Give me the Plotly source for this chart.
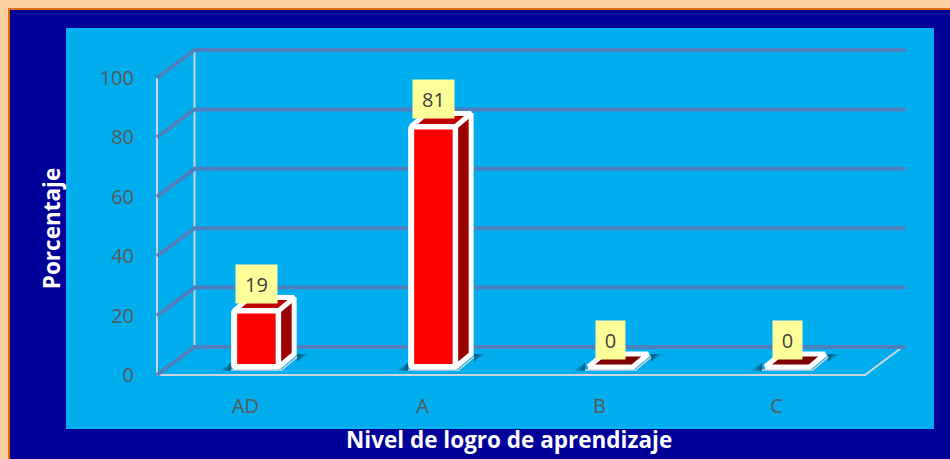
import plotly.graph_objects as go

# Data
categories = ["AD", "A", "B", "C"]
porcentaje = [19, 81, 0, 0]
y_ticks = [0, 20, 40, 60, 80, 100]

W, H = 950, 459
PANEL = (66, 934, 28, 429)  # left, right, top, bottom in pixels
X0_PX, CAT_PX = 157, 177    # left end of the front floor, width of a category
Y0_PX, UNIT_PX = 375, 2.97  # zero line of the front plane, pixels per percent

# Depth of the fake 3D box, in axis units
DX, DY = 37.5 / CAT_PX, 28 / UNIT_PX
BAR_W = 44.5 / CAT_PX
BAR_DX, BAR_DY = 15.5 / CAT_PX, 13 / UNIT_PX
BAR_SHIFT, BAR_BASE = 10.9 / CAT_PX, 8 / UNIT_PX

x_range = [-0.5 - (X0_PX - PANEL[0]) / CAT_PX, 3.5 + (PANEL[1] - X0_PX - 4 * CAT_PX) / CAT_PX]
y_range = [-(PANEL[3] - Y0_PX) / UNIT_PX, (Y0_PX - PANEL[2]) / UNIT_PX]

GRID = "#4F80BE"
WALL = "#CFD6DC"
TICK = "#595959"
PAD = 3 / CAT_PX  # half of the white outline


def path(points):
    return "M " + " L ".join(f"{x},{y}" for x, y in points) + " Z"


def line(points, color, width):
    return dict(
        type="path",
        xref="x",
        yref="y",
        layer="below",
        path="M " + " L ".join(f"{x},{y}" for x, y in points),
        line=dict(color=color, width=width),
    )


def band(x0, x1, y0, y1, color):
    # pixel box, y measured from the top of the page
    return dict(type="rect", xref="paper", yref="paper", layer="above",
                x0=x0 / W, x1=x1 / W, y0=1 - y1 / H, y1=1 - y0 / H,
                fillcolor=color, line=dict(width=0))


left, right = -0.5, 3.5

# Walls and floor edges
shapes = [
    line([(left + DX, 0 + DY), (left + DX, 100 + DY)], WALL, 2),
    line([(left, 0), (left, 100)], WALL, 2),
    line([(left, 0), (right, 0), (right + DX, DY)], WALL, 2),
]

# Gridlines bend from the front plane along the side wall to the back wall
for v in y_ticks:
    shapes.append(line([(left, v), (left + DX, v + DY), (right + DX + PAD, v + DY)], GRID, 4))

# Shadows of the bars on the floor
for i in range(len(categories)):
    xl = i + BAR_SHIFT - BAR_W / 2 - PAD
    xr = xl + BAR_W + BAR_DX + 2 * PAD
    for grow, alpha in [(1.0, 0.2), (0.7, 0.3), (0.4, 0.4)]:
        shapes.append(dict(
            type="path", xref="x", yref="y", layer="below", line=dict(width=0),
            fillcolor=f"rgba(0,60,85,{alpha})",
            path=path([(xl, BAR_BASE - 1.2), (xl - grow * 12 / CAT_PX, BAR_BASE - 1.2), (xl, BAR_BASE + 1.5)]),
        ))
        shapes.append(dict(
            type="path", xref="x", yref="y", layer="below", line=dict(width=0),
            fillcolor=f"rgba(0,60,85,{alpha})",
            path=path([(xr, BAR_BASE + BAR_DY), (xr + grow * 12 / CAT_PX, BAR_BASE + BAR_DY),
                       (xr, BAR_BASE + BAR_DY - 2.5)]),
        ))

# Peach and orange border along the top and left edges
shapes += [
    band(0, W, 0, 8, "#FDCF9E"),
    band(0, 8, 0, H, "#FDCF9E"),
    band(8, W, 8, 10, "#E36C0A"),
    band(8, 10, 8, H, "#E36C0A"),
]

fig = go.Figure()

# Front faces
fig.add_trace(go.Bar(
    x=[i + BAR_SHIFT for i in range(len(categories))],
    y=porcentaje,
    base=BAR_BASE,
    width=BAR_W,
    marker=dict(color="#FF0000", line=dict(color="white", width=6), cornerradius=2),
    hoverinfo="skip",
))

# Side and top faces of each bar
for i, v in enumerate(porcentaje):
    xl = i + BAR_SHIFT - BAR_W / 2
    xr = xl + BAR_W
    yb = BAR_BASE
    yt = BAR_BASE + v
    fig.add_trace(go.Scatter(
        x=[xr, xr + BAR_DX, xr + BAR_DX, xr, xr],
        y=[yb, yb + BAR_DY, yt + BAR_DY, yt, yb],
        mode="lines", fill="toself", fillcolor="#9C0000",
        line=dict(color="white", width=5),
        hoverinfo="skip",
    ))
    fig.add_trace(go.Scatter(
        x=[xl, xr, xr + BAR_DX, xl + BAR_DX, xl],
        y=[yt, yt, yt + BAR_DY, yt + BAR_DY, yt],
        mode="lines", fill="toself", fillcolor="#BE0000" if v else "#800000",
        line=dict(color="white", width=5),
        hoverinfo="skip",
    ))
    # grey lower edge of the white outline
    fig.add_trace(go.Scatter(
        x=[xl - PAD, xr + PAD, xr + BAR_DX + PAD],
        y=[yb - 1, yb - 1, yb + BAR_DY - 1],
        mode="lines",
        line=dict(color="#D4D4D4", width=1.5),
        hoverinfo="skip",
    ))

# Value boxes
annotations = [
    dict(
        x=i + BAR_SHIFT, y=v, xref="x", yref="y", yshift=35,
        text=str(v), showarrow=False,
        width=39 if v >= 10 else 27, height=36,
        bgcolor="#FFFF99", valign="middle",
        font=dict(family="Open Sans", size=20, color="#404040"),
    )
    for i, v in enumerate(porcentaje)
]

# The x title sits right of the axis centre in the original
annotations.append(dict(
    x=509 / W, y=1 - 439 / H, xref="paper", yref="paper",
    xanchor="center", yanchor="middle",
    text="<b>Nivel de logro de aprendizaje</b>", showarrow=False,
    font=dict(family="Open Sans", size=22.5, color="white"),
))

fig.update_layout(
    width=W,
    height=H,
    margin=dict(l=0, r=0, t=0, b=0),
    paper_bgcolor="#000099",
    plot_bgcolor="#00AEEF",
    showlegend=False,
    shapes=shapes,
    annotations=annotations,
    xaxis=dict(
        domain=[PANEL[0] / W, PANEL[1] / W],
        range=x_range,
        anchor="free",
        position=(H - 392) / H,
        tickmode="array",
        tickvals=list(range(len(categories))),
        ticktext=categories,
        tickfont=dict(family="Open Sans", size=20, color=TICK),
        showgrid=False,
        zeroline=False,
        showline=False,
        ticks="",
    ),
    yaxis=dict(
        domain=[(H - PANEL[3]) / H, (H - PANEL[2]) / H],
        range=y_range,
        anchor="free",
        position=134 / W,
        tickmode="array",
        tickvals=y_ticks,
        tickfont=dict(family="Open Sans", size=20, color=TICK),
        showgrid=False,
        zeroline=False,
        showline=False,
        ticks="",
        title=dict(text="<b>Porcentaje</b>", standoff=31,
                   font=dict(family="Open Sans", size=22.5, color="white")),
    ),
)

# The page margin would push the figure off the window
fig.write_html(
    "out.html",
    config={"displayModeBar": False},
    post_script="document.body.style.margin='0';document.body.style.overflow='hidden';",
)
